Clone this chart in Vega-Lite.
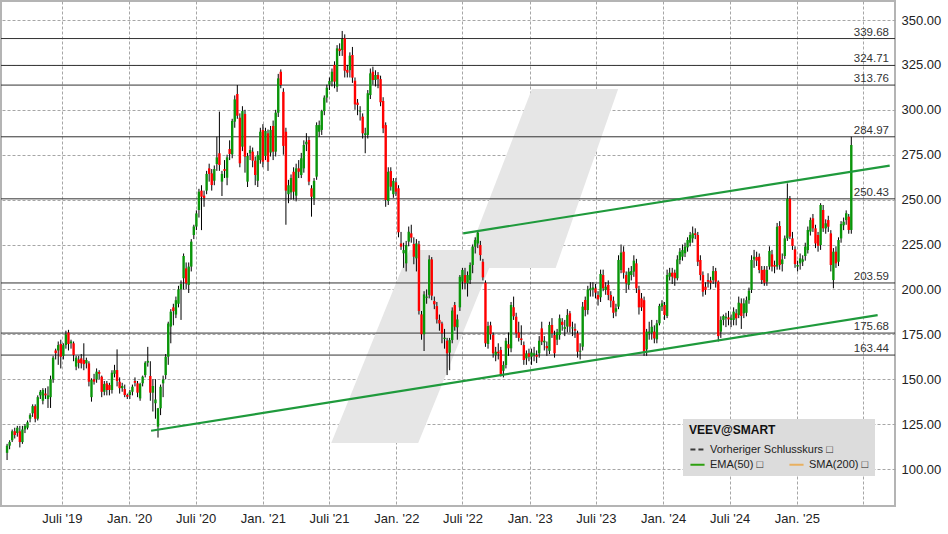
{
"$schema": "https://vega.github.io/schema/vega-lite/v6.json",
"width": 894, "height": 505,
"autosize": {"type": "none"},
"padding": {"left": 1, "top": 1, "right": 53, "bottom": 28},
"background": "white",
"config": {"view": {"stroke": "#b4b4b4", "strokeWidth": 2}, "font": "Liberation Sans",
"axis": {"ticks": false, "domain": false, "labelFontSize": 13, "labelColor": "#222", "labelFont": "Liberation Sans", "grid": true, "gridDash": [3,2], "gridColor": "#a6a6a6", "labelPadding": 6},
"legend": {"orient": "none", "symbolType": "stroke", "symbolSize": 200, "symbolStrokeWidth": 2, "labelFontSize": 11, "labelColor": "#222", "labelFont": "Liberation Sans", "titleFont": "Liberation Sans", "titleFontSize": 12, "titleColor": "#111", "titleFontWeight": "bold", "fillColor": "#dcdcdc", "padding": 6, "labelOffset": 4, "titlePadding": 2}},
"resolve": {"scale": {"color": "independent"}, "legend": {"color": "independent"}},
"datasets": {
"candles": [
{"d":"2019-02-01","o":109,"h":114,"l":105,"c":113},{"d":"2019-02-08","o":113,"h":116,"l":111,"c":115},{"d":"2019-02-15","o":116,"h":122,"l":115,"c":121},{"d":"2019-02-22","o":121,"h":123,"l":117,"c":119},{"d":"2019-03-01","o":120,"h":124,"l":118,"c":123},{"d":"2019-03-08","o":121,"h":124,"l":112,"c":115},{"d":"2019-03-15","o":115,"h":124,"l":114,"c":122},{"d":"2019-03-22","o":122,"h":125,"l":120,"c":124},{"d":"2019-03-29","o":123,"h":127,"l":122,"c":126},{"d":"2019-04-05","o":128,"h":131,"l":126,"c":130},{"d":"2019-04-12","o":131,"h":136,"l":129,"c":135},{"d":"2019-04-19","o":135,"h":136,"l":126,"c":128},{"d":"2019-04-26","o":128,"h":141,"l":127,"c":140},{"d":"2019-05-03","o":141,"h":144,"l":139,"c":143},{"d":"2019-05-10","o":138,"h":145,"l":136,"c":144},{"d":"2019-05-17","o":142,"h":145,"l":139,"c":141},{"d":"2019-05-24","o":139,"h":146,"l":134,"c":141},{"d":"2019-05-31","o":140,"h":152,"l":134,"c":150},{"d":"2019-06-07","o":150,"h":163,"l":148,"c":162},{"d":"2019-06-14","o":166,"h":167,"l":161,"c":164.5},{"d":"2019-06-21","o":166,"h":171,"l":158,"c":169},{"d":"2019-06-28","o":169.6,"h":172,"l":156,"c":162.5},{"d":"2019-07-05","o":163,"h":170,"l":161,"c":169},{"d":"2019-07-12","o":169,"h":177,"l":167,"c":175},{"d":"2019-07-19","o":176,"h":177.5,"l":166,"c":169.6},{"d":"2019-07-26","o":170,"h":172,"l":167,"c":171},{"d":"2019-08-02","o":170,"h":171,"l":160,"c":163.5},{"d":"2019-08-09","o":157,"h":163,"l":155,"c":162},{"d":"2019-08-16","o":161,"h":163,"l":156,"c":159},{"d":"2019-08-23","o":161.6,"h":164,"l":156,"c":158.8},{"d":"2019-08-30","o":160.7,"h":170,"l":155,"c":158.4},{"d":"2019-09-06","o":158.8,"h":162,"l":156,"c":160.7},{"d":"2019-09-13","o":158.8,"h":160,"l":146,"c":148.6},{"d":"2019-09-20","o":140,"h":150.5,"l":137.5,"c":149.6},{"d":"2019-09-27","o":150,"h":153,"l":147,"c":148.6},{"d":"2019-10-04","o":149.9,"h":156,"l":148,"c":154.2},{"d":"2019-10-11","o":154,"h":155,"l":150,"c":153},{"d":"2019-10-18","o":151.4,"h":152,"l":140,"c":143},{"d":"2019-10-25","o":143,"h":149,"l":141,"c":147.3},{"d":"2019-11-01","o":147.7,"h":149,"l":141,"c":144},{"d":"2019-11-08","o":146.8,"h":148,"l":141,"c":144},{"d":"2019-11-15","o":144,"h":155,"l":142,"c":153.6},{"d":"2019-11-22","o":153,"h":158,"l":151,"c":155},{"d":"2019-11-29","o":155.1,"h":166.6,"l":146,"c":149},{"d":"2019-12-06","o":148.6,"h":151,"l":142,"c":145},{"d":"2019-12-13","o":145,"h":148,"l":143,"c":146.2},{"d":"2019-12-20","o":144.5,"h":147,"l":140,"c":141.2},{"d":"2019-12-27","o":141.2,"h":142,"l":139,"c":140.2},
{"d":"2020-01-03","o":141.2,"h":144,"l":139,"c":143},{"d":"2020-01-10","o":143,"h":147,"l":141,"c":145.8},{"d":"2020-01-17","o":149,"h":151,"l":146,"c":148},{"d":"2020-01-24","o":147.7,"h":149,"l":140,"c":142.5},{"d":"2020-01-31","o":139.3,"h":148,"l":138,"c":147.3},{"d":"2020-02-07","o":147.7,"h":152,"l":146,"c":151.4},{"d":"2020-02-14","o":152.3,"h":160,"l":151,"c":159.2},{"d":"2020-02-21","o":159.2,"h":168,"l":157,"c":160.2},{"d":"2020-02-28","o":151.8,"h":160,"l":138,"c":142.5},{"d":"2020-03-06","o":142.5,"h":150,"l":132,"c":146.2},{"d":"2020-03-13","o":136.6,"h":150,"l":128,"c":138.7},{"d":"2020-03-20","o":123.6,"h":134,"l":117.5,"c":133.8},{"d":"2020-03-27","o":133.8,"h":147,"l":130,"c":145.8},{"d":"2020-04-03","o":147.7,"h":152,"l":140,"c":149.9},{"d":"2020-04-10","o":152.3,"h":164,"l":150,"c":162.5},{"d":"2020-04-17","o":162.5,"h":182,"l":158,"c":181},{"d":"2020-04-24","o":179.3,"h":189,"l":170,"c":187.6},{"d":"2020-05-01","o":190,"h":192,"l":180,"c":188},{"d":"2020-05-08","o":186,"h":196,"l":184,"c":194},{"d":"2020-05-15","o":192,"h":202,"l":190,"c":200},{"d":"2020-05-22","o":200,"h":205,"l":183,"c":203},{"d":"2020-05-29","o":206.2,"h":220,"l":200,"c":218.6},{"d":"2020-06-05","o":211.7,"h":215,"l":200,"c":203.4},{"d":"2020-06-12","o":202.5,"h":215,"l":198,"c":212.7},{"d":"2020-06-19","o":212.7,"h":228,"l":210,"c":226.6},{"d":"2020-06-26","o":230.3,"h":236,"l":228,"c":235},{"d":"2020-07-03","o":235,"h":244,"l":233,"c":242.3},{"d":"2020-07-10","o":244.2,"h":256,"l":240,"c":254.4},{"d":"2020-07-17","o":255,"h":258,"l":233,"c":251.6},{"d":"2020-07-24","o":252.2,"h":255,"l":246,"c":250.9},{"d":"2020-07-31","o":255,"h":266,"l":253,"c":264.3},{"d":"2020-08-07","o":267.4,"h":270,"l":260,"c":264.3},{"d":"2020-08-14","o":264.6,"h":267,"l":255,"c":258.1},{"d":"2020-08-21","o":260.5,"h":269,"l":258,"c":267},{"d":"2020-08-28","o":269.8,"h":285,"l":266,"c":273.5},{"d":"2020-09-04","o":275.8,"h":299,"l":266,"c":269.3},{"d":"2020-09-11","o":260,"h":266,"l":252,"c":264.3},{"d":"2020-09-18","o":267,"h":272,"l":262,"c":266},{"d":"2020-09-25","o":262.2,"h":275,"l":258,"c":273.5},{"d":"2020-10-02","o":278.2,"h":283,"l":272,"c":275.4},{"d":"2020-10-09","o":275.2,"h":295,"l":273,"c":293.8},{"d":"2020-10-16","o":293.4,"h":308,"l":290,"c":305.8},{"d":"2020-10-23","o":308.8,"h":313.8,"l":295,"c":296.7},{"d":"2020-10-30","o":295.6,"h":298,"l":268,"c":270.2},{"d":"2020-11-06","o":279.5,"h":302,"l":277,"c":299.3},{"d":"2020-11-13","o":297.7,"h":300,"l":265,"c":273.9},{"d":"2020-11-20","o":260,"h":276,"l":257,"c":274.3},{"d":"2020-11-27","o":275.8,"h":280,"l":272,"c":277.6},{"d":"2020-12-04","o":276.7,"h":279,"l":268,"c":271.7},{"d":"2020-12-11","o":271.7,"h":274,"l":258,"c":263.7},{"d":"2020-12-18","o":260.5,"h":277,"l":257,"c":274.8},{"d":"2020-12-25","o":272,"h":290,"l":270,"c":287.8},
{"d":"2021-01-01","o":288.8,"h":292,"l":268,"c":271.1},{"d":"2021-01-08","o":274.3,"h":290,"l":272,"c":288.2},{"d":"2021-01-15","o":286.9,"h":289,"l":266,"c":271},{"d":"2021-01-22","o":276.2,"h":291,"l":274,"c":288.8},{"d":"2021-01-29","o":291,"h":294,"l":272,"c":276.7},{"d":"2021-02-05","o":276.7,"h":300,"l":274,"c":298.4},{"d":"2021-02-12","o":298.4,"h":320,"l":296,"c":317.5},{"d":"2021-02-19","o":321.2,"h":322.5,"l":312,"c":313.8},{"d":"2021-02-26","o":310,"h":312,"l":275,"c":279.9},{"d":"2021-03-05","o":287.8,"h":290,"l":236,"c":255},{"d":"2021-03-12","o":253,"h":261,"l":248,"c":258},{"d":"2021-03-19","o":254,"h":264,"l":250,"c":262},{"d":"2021-03-26","o":265.5,"h":268,"l":250,"c":254.4},{"d":"2021-04-02","o":252.2,"h":270,"l":249,"c":267.4},{"d":"2021-04-09","o":267.4,"h":272,"l":262,"c":265.5},{"d":"2021-04-16","o":263.7,"h":276,"l":262,"c":273},{"d":"2021-04-23","o":267.4,"h":283,"l":265,"c":280.4},{"d":"2021-04-30","o":280.8,"h":287,"l":277,"c":282.2},{"d":"2021-05-07","o":283.2,"h":285,"l":258,"c":260},{"d":"2021-05-14","o":256.3,"h":258,"l":240.5,"c":251.6},{"d":"2021-05-21","o":250.7,"h":262,"l":247,"c":260.4},{"d":"2021-05-28","o":262.8,"h":293,"l":261,"c":291.5},{"d":"2021-06-04","o":287.8,"h":294,"l":285,"c":291.5},{"d":"2021-06-11","o":288.8,"h":300,"l":286,"c":299.3},{"d":"2021-06-18","o":299.3,"h":308,"l":297,"c":306.8},{"d":"2021-06-25","o":306.8,"h":314,"l":304,"c":312.3},{"d":"2021-07-02","o":314,"h":318,"l":311,"c":316},{"d":"2021-07-09","o":315.7,"h":323,"l":313,"c":321.2},{"d":"2021-07-16","o":325,"h":327,"l":312,"c":315.7},{"d":"2021-07-23","o":312.9,"h":336,"l":310,"c":334.2},{"d":"2021-07-30","o":334,"h":337,"l":330,"c":332.7},{"d":"2021-08-06","o":333.3,"h":343.9,"l":330,"c":339.4},{"d":"2021-08-13","o":339.8,"h":342,"l":318,"c":321.8},{"d":"2021-08-20","o":322.2,"h":325,"l":318,"c":320.7},{"d":"2021-08-27","o":322.1,"h":332,"l":318,"c":330.1},{"d":"2021-09-03","o":330.5,"h":335,"l":315,"c":317.9},{"d":"2021-09-10","o":316.2,"h":318,"l":300,"c":303},{"d":"2021-09-17","o":304,"h":306,"l":297,"c":302.7},{"d":"2021-09-24","o":299,"h":302,"l":294,"c":299.5},{"d":"2021-10-01","o":296.2,"h":298,"l":284,"c":286.9},{"d":"2021-10-08","o":286,"h":290,"l":275.8,"c":286.9},{"d":"2021-10-15","o":286,"h":311,"l":284,"c":309.2},{"d":"2021-10-22","o":308.2,"h":323,"l":306,"c":320.3},{"d":"2021-10-29","o":321.2,"h":324,"l":314,"c":316.6},{"d":"2021-11-05","o":316.6,"h":322,"l":313,"c":319.4},{"d":"2021-11-12","o":319.4,"h":321,"l":312,"c":317.1},{"d":"2021-11-19","o":317.1,"h":319,"l":302,"c":304.2},{"d":"2021-11-26","o":304.9,"h":307,"l":287,"c":289.7},{"d":"2021-12-03","o":291.5,"h":293,"l":246,"c":249.8},{"d":"2021-12-10","o":249.2,"h":268,"l":247,"c":265.5},{"d":"2021-12-17","o":265.9,"h":268,"l":255,"c":257.2},{"d":"2021-12-24","o":253,"h":262,"l":251,"c":260.4},{"d":"2021-12-31","o":259.6,"h":262,"l":252,"c":254.4},
{"d":"2022-01-07","o":256.3,"h":258,"l":229,"c":231.8},{"d":"2022-01-14","o":225.6,"h":232,"l":222,"c":223.8},{"d":"2022-01-21","o":220.1,"h":226,"l":212,"c":221.9},{"d":"2022-01-28","o":214.5,"h":227,"l":210,"c":224.7},{"d":"2022-02-04","o":226.6,"h":235,"l":224,"c":232.1},{"d":"2022-02-11","o":231.2,"h":236,"l":226,"c":228.8},{"d":"2022-02-18","o":225.3,"h":229,"l":214,"c":218.2},{"d":"2022-02-25","o":217.3,"h":228,"l":210,"c":225.6},{"d":"2022-03-04","o":225.1,"h":227,"l":186,"c":188},{"d":"2022-03-11","o":186.1,"h":188,"l":172,"c":175},{"d":"2022-03-18","o":175,"h":199,"l":165.7,"c":197.2},{"d":"2022-03-25","o":195.3,"h":200,"l":192,"c":196},{"d":"2022-04-01","o":197,"h":219,"l":195,"c":216.7},{"d":"2022-04-08","o":216.7,"h":218,"l":194,"c":196.5},{"d":"2022-04-15","o":193.5,"h":196,"l":189,"c":191.7},{"d":"2022-04-22","o":190.7,"h":193,"l":181,"c":183.3},{"d":"2022-04-29","o":183,"h":186,"l":177,"c":181},{"d":"2022-05-06","o":181,"h":182,"l":170,"c":175.5},{"d":"2022-05-13","o":172.4,"h":178,"l":167,"c":173.1},{"d":"2022-05-20","o":171.4,"h":173,"l":152.3,"c":164.4},{"d":"2022-05-27","o":164.8,"h":173,"l":155,"c":171.8},{"d":"2022-06-03","o":171.8,"h":190,"l":170,"c":188.2},{"d":"2022-06-10","o":191.3,"h":193,"l":177,"c":179.2},{"d":"2022-06-17","o":178.9,"h":186,"l":172,"c":183.3},{"d":"2022-06-24","o":190,"h":208,"l":188,"c":207},{"d":"2022-07-01","o":204.3,"h":212,"l":200,"c":210.8},{"d":"2022-07-08","o":208,"h":212,"l":200,"c":203.7},{"d":"2022-07-15","o":203.4,"h":210,"l":196,"c":208},{"d":"2022-07-22","o":205.2,"h":215,"l":203,"c":213.6},{"d":"2022-07-29","o":213.6,"h":225,"l":209,"c":223.8},{"d":"2022-08-05","o":223.8,"h":229,"l":220,"c":227.5},{"d":"2022-08-12","o":225.6,"h":232.7,"l":223,"c":231.6},{"d":"2022-08-19","o":224.7,"h":227,"l":216,"c":219.1},{"d":"2022-08-26","o":215.4,"h":217,"l":205,"c":206.7},{"d":"2022-09-02","o":203.7,"h":205,"l":168,"c":170},{"d":"2022-09-09","o":169.6,"h":182,"l":167,"c":179.6},{"d":"2022-09-16","o":180,"h":182,"l":172,"c":175},{"d":"2022-09-23","o":174.6,"h":176,"l":162,"c":164.4},{"d":"2022-09-30","o":163.5,"h":168,"l":160,"c":165.3},{"d":"2022-10-07","o":165.3,"h":170,"l":161,"c":164.4},{"d":"2022-10-14","o":166.3,"h":168,"l":151.5,"c":152.3},{"d":"2022-10-21","o":154.7,"h":160,"l":151,"c":157.9},{"d":"2022-10-28","o":157.9,"h":173,"l":156,"c":171.4},{"d":"2022-11-04","o":169.5,"h":176,"l":163,"c":167.2},{"d":"2022-11-11","o":167.2,"h":193,"l":165,"c":191.3},{"d":"2022-11-18","o":190,"h":196,"l":183,"c":185},{"d":"2022-11-25","o":184.8,"h":187,"l":173,"c":175.5},{"d":"2022-12-02","o":176,"h":182,"l":171,"c":173},{"d":"2022-12-09","o":172.7,"h":180,"l":169,"c":171.8},{"d":"2022-12-16","o":169,"h":171,"l":158,"c":160.7},{"d":"2022-12-23","o":161.6,"h":166,"l":158,"c":164.4},{"d":"2022-12-30","o":164.4,"h":167,"l":160,"c":162.5},
{"d":"2023-01-06","o":162.5,"h":167,"l":158,"c":164.8},{"d":"2023-01-13","o":163.5,"h":168,"l":160,"c":164.4},{"d":"2023-01-20","o":163.5,"h":166,"l":159,"c":162.5},{"d":"2023-01-27","o":164.4,"h":174,"l":162,"c":171.4},{"d":"2023-02-03","o":178.3,"h":182,"l":169,"c":170.9},{"d":"2023-02-10","o":170.5,"h":174,"l":166,"c":171.4},{"d":"2023-02-17","o":168.5,"h":171,"l":163,"c":167.2},{"d":"2023-02-24","o":165.8,"h":182,"l":164,"c":180.2},{"d":"2023-03-03","o":180.2,"h":184,"l":173,"c":175.5},{"d":"2023-03-10","o":174.6,"h":177,"l":162,"c":164.4},{"d":"2023-03-17","o":172,"h":178,"l":169,"c":176.2},{"d":"2023-03-24","o":174.6,"h":186,"l":172,"c":183.9},{"d":"2023-03-31","o":182,"h":184,"l":177,"c":180.2},{"d":"2023-04-07","o":178,"h":183,"l":174,"c":179},{"d":"2023-04-14","o":179.3,"h":189,"l":176,"c":185.7},{"d":"2023-04-21","o":186.7,"h":188,"l":176,"c":179.3},{"d":"2023-04-28","o":178.3,"h":182,"l":174,"c":178.8},{"d":"2023-05-05","o":178,"h":181,"l":173,"c":177},{"d":"2023-05-12","o":175.5,"h":177,"l":162,"c":165.3},{"d":"2023-05-19","o":165.3,"h":170,"l":161,"c":165.8},{"d":"2023-05-26","o":168.1,"h":193,"l":166,"c":190.4},{"d":"2023-06-02","o":194.1,"h":196,"l":185,"c":188.5},{"d":"2023-06-09","o":188.5,"h":202,"l":186,"c":200},{"d":"2023-06-16","o":199.5,"h":204,"l":196,"c":200.6},{"d":"2023-06-23","o":200,"h":204,"l":196,"c":201.1},{"d":"2023-06-30","o":200.6,"h":203,"l":195,"c":198.2},{"d":"2023-07-07","o":196.9,"h":199,"l":191,"c":194.5},{"d":"2023-07-14","o":195.6,"h":211,"l":193,"c":208.6},{"d":"2023-07-21","o":208,"h":211,"l":199,"c":200.6},{"d":"2023-07-28","o":199.7,"h":204,"l":197,"c":201.5},{"d":"2023-08-04","o":202.5,"h":205,"l":194,"c":196.9},{"d":"2023-08-11","o":196.9,"h":199,"l":190,"c":193.7},{"d":"2023-08-18","o":193.7,"h":196,"l":184,"c":187},{"d":"2023-08-25","o":187.6,"h":192,"l":185,"c":189.5},{"d":"2023-09-01","o":190.4,"h":219,"l":189,"c":216.4},{"d":"2023-09-08","o":210.8,"h":225,"l":209,"c":220.5},{"d":"2023-09-15","o":221,"h":224,"l":206,"c":209.3},{"d":"2023-09-22","o":208,"h":210,"l":198,"c":203.4},{"d":"2023-09-29","o":202.5,"h":212,"l":200,"c":209.9},{"d":"2023-10-06","o":208,"h":213,"l":205,"c":210.2},{"d":"2023-10-13","o":209.9,"h":219,"l":207,"c":216},{"d":"2023-10-20","o":214.5,"h":217,"l":198,"c":200.6},{"d":"2023-10-27","o":199.7,"h":202,"l":186,"c":190},{"d":"2023-11-03","o":195,"h":198,"l":188,"c":190},{"d":"2023-11-10","o":194,"h":196,"l":163,"c":165.3},{"d":"2023-11-17","o":166.6,"h":178,"l":163,"c":176.5},{"d":"2023-11-24","o":175.5,"h":182,"l":172,"c":176.5},{"d":"2023-12-01","o":175.9,"h":183,"l":172,"c":179.2},{"d":"2023-12-08","o":176.5,"h":180,"l":170,"c":172.7},{"d":"2023-12-15","o":172.2,"h":183,"l":170,"c":181.1},{"d":"2023-12-22","o":181.1,"h":192,"l":180,"c":190.8},{"d":"2023-12-29","o":190.4,"h":194,"l":188,"c":192.2},
{"d":"2024-01-05","o":191.3,"h":193,"l":183,"c":185.7},{"d":"2024-01-12","o":185.2,"h":211,"l":184,"c":208},{"d":"2024-01-19","o":207.1,"h":212,"l":205,"c":209.3},{"d":"2024-01-26","o":209.3,"h":212,"l":203,"c":207.1},{"d":"2024-02-02","o":209.3,"h":211,"l":202,"c":206.2},{"d":"2024-02-09","o":206.2,"h":219,"l":205,"c":216.7},{"d":"2024-02-16","o":216.4,"h":223,"l":214,"c":221},{"d":"2024-02-23","o":218.2,"h":225,"l":216,"c":221.9},{"d":"2024-03-01","o":220.1,"h":226,"l":218,"c":223.8},{"d":"2024-03-08","o":223.4,"h":229,"l":221,"c":227.5},{"d":"2024-03-15","o":226,"h":232,"l":224,"c":230.3},{"d":"2024-03-22","o":228.4,"h":235,"l":226,"c":231.2},{"d":"2024-03-29","o":231.2,"h":234,"l":228,"c":230.3},{"d":"2024-04-05","o":230.3,"h":232,"l":213,"c":215.4},{"d":"2024-04-12","o":216.4,"h":219,"l":205,"c":208},{"d":"2024-04-19","o":208,"h":210,"l":196,"c":198.7},{"d":"2024-04-26","o":201.5,"h":204,"l":197,"c":199.7},{"d":"2024-05-03","o":205.2,"h":209,"l":201,"c":204.3},{"d":"2024-05-10","o":204.9,"h":207,"l":200,"c":203.7},{"d":"2024-05-17","o":205.2,"h":213,"l":203,"c":210.2},{"d":"2024-05-24","o":210.2,"h":212,"l":201,"c":204.3},{"d":"2024-05-31","o":204.3,"h":205,"l":171,"c":174},{"d":"2024-06-07","o":176.5,"h":185,"l":173,"c":183},{"d":"2024-06-14","o":183,"h":186,"l":180,"c":185.2},{"d":"2024-06-21","o":183.9,"h":187,"l":179,"c":184.8},{"d":"2024-06-28","o":184.4,"h":188,"l":180,"c":183.3},{"d":"2024-07-05","o":183,"h":186,"l":179,"c":183.9},{"d":"2024-07-12","o":183,"h":190,"l":180,"c":187.6},{"d":"2024-07-19","o":186.7,"h":189,"l":180,"c":183.9},{"d":"2024-07-26","o":185.7,"h":196,"l":184,"c":192.6},{"d":"2024-08-02","o":192.2,"h":195,"l":178,"c":185.2},{"d":"2024-08-09","o":186.7,"h":195,"l":184,"c":192.2},{"d":"2024-08-16","o":187,"h":196,"l":185,"c":194},{"d":"2024-08-23","o":194,"h":201,"l":192,"c":199.3},{"d":"2024-08-30","o":199.7,"h":219,"l":198,"c":216.4},{"d":"2024-09-06","o":216.7,"h":222,"l":212,"c":218.2},{"d":"2024-09-13","o":218,"h":221,"l":213,"c":216},{"d":"2024-09-20","o":218.2,"h":220,"l":209,"c":210.8},{"d":"2024-09-27","o":210.8,"h":213,"l":203,"c":205.2},{"d":"2024-10-04","o":211,"h":213,"l":202,"c":203.7},{"d":"2024-10-11","o":204.3,"h":213,"l":202,"c":210.8},{"d":"2024-10-18","o":212.7,"h":224,"l":211,"c":221.4},{"d":"2024-10-25","o":219.5,"h":222,"l":210,"c":212.7},{"d":"2024-11-01","o":213.6,"h":216,"l":209,"c":212.7},{"d":"2024-11-08","o":212.7,"h":237,"l":211,"c":234.9},{"d":"2024-11-15","o":235.3,"h":238,"l":211,"c":213.6},{"d":"2024-11-22","o":214.1,"h":220,"l":210,"c":216.7},{"d":"2024-11-29","o":218.6,"h":230,"l":217,"c":228.4},{"d":"2024-12-06","o":228.4,"h":259,"l":227,"c":250.5},{"d":"2024-12-13","o":250.5,"h":252,"l":228,"c":229.4},{"d":"2024-12-20","o":228.4,"h":232,"l":222,"c":224.2},{"d":"2024-12-27","o":222.3,"h":224,"l":212,"c":214.1},
{"d":"2025-01-03","o":212.7,"h":216,"l":210,"c":213.6},{"d":"2025-01-10","o":214.5,"h":220,"l":211,"c":217.3},{"d":"2025-01-17","o":215.4,"h":219,"l":213,"c":216.7},{"d":"2025-01-24","o":218.6,"h":226,"l":216,"c":223.8},{"d":"2025-01-31","o":221.9,"h":235,"l":220,"c":233.1},{"d":"2025-02-07","o":232.2,"h":240,"l":230,"c":238.6},{"d":"2025-02-14","o":239.6,"h":242,"l":232,"c":234},{"d":"2025-02-21","o":234,"h":236,"l":223,"c":225.6},{"d":"2025-02-28","o":230.3,"h":232,"l":221,"c":224.2},{"d":"2025-03-07","o":224.7,"h":248,"l":222,"c":247},{"d":"2025-03-14","o":244.2,"h":247,"l":232,"c":234},{"d":"2025-03-21","o":234,"h":239,"l":231,"c":236.8},{"d":"2025-03-28","o":238.6,"h":241,"l":232,"c":234.9},{"d":"2025-04-04","o":231.2,"h":233,"l":210,"c":213.6},{"d":"2025-04-11","o":205.2,"h":223,"l":200.6,"c":221},{"d":"2025-04-18","o":221,"h":224,"l":212,"c":214.5},{"d":"2025-04-25","o":215.4,"h":229,"l":213,"c":227.5},{"d":"2025-05-02","o":228.4,"h":238,"l":226,"c":236.4},{"d":"2025-05-09","o":235.7,"h":240,"l":233,"c":237.7},{"d":"2025-05-16","o":238.6,"h":244,"l":236,"c":242.4},{"d":"2025-05-23","o":240.5,"h":242,"l":231,"c":233.1},{"d":"2025-05-30","o":233.1,"h":285,"l":231,"c":280.4}
],
"levels": [{"v":339.68},{"v":324.71},{"v":313.76},{"v":284.97},{"v":250.43},{"v":203.59},{"v":175.68},{"v":163.44}],
"trends": [{"t":"up","d":"2022-07-03","v":231.2},{"t":"up","d":"2025-09-12","v":268.9},{"t":"lo","d":"2020-03-01","v":121.3},{"t":"lo","d":"2025-08-10","v":185.7}],
"wmUpper": [{"v":311.6,"d":"2023-01-07","d2":"2023-08-31"},{"v":211.9,"d":"2022-07-02","d2":"2023-03-13"}],
"wmLower": [{"v":221.9,"d":"2022-02-06","d2":"2022-10-02"},{"v":114.5,"d":"2021-07-07","d2":"2022-03-02"}]
},
"layer": [
{
"data": {"name": "wmUpper"},
"mark": {"type": "area", "orient": "horizontal", "color": "#e6e6e6"},
"encoding": {
"y": {"field": "v", "type": "quantitative", "scale": {"domain": [79.4, 360.58], "nice": false, "zero": false},
"axis": {"orient": "right", "values": [100,125,150,175,200,225,250,275,300,325,350], "format": ".2f", "title": null}},
"x": {"field": "d", "type": "temporal", "scale": {"type": "utc", "nice": false, "domain": [{"year":2019,"month":1,"date":29,"hours":2,"utc":true},{"year":2025,"month":9,"date":12,"hours":21,"utc":true}]},
"axis": {"orient": "bottom", "values": [{"year":2019,"month":7,"date":1,"utc":true},{"year":2020,"month":1,"date":1,"utc":true},{"year":2020,"month":7,"date":1,"utc":true},{"year":2021,"month":1,"date":1,"utc":true},{"year":2021,"month":7,"date":1,"utc":true},{"year":2022,"month":1,"date":1,"utc":true},{"year":2022,"month":7,"date":1,"utc":true},{"year":2023,"month":1,"date":1,"utc":true},{"year":2023,"month":7,"date":1,"utc":true},{"year":2024,"month":1,"date":1,"utc":true},{"year":2024,"month":7,"date":1,"utc":true},{"year":2025,"month":1,"date":1,"utc":true},{"year":2025,"month":7,"date":1,"utc":true}],
"labelExpr": "utcFormat(datum.value, '%Y%m') == '202507' ? '' : (utcFormat(datum.value, '%m') == '01' ? 'Jan. ' : 'Juli ') + \"'\" + utcFormat(datum.value, '%y')", "labelOverlap": false, "labelFlush": false, "title": null}},
"x2": {"field": "d2"}
}
},
{
"data": {"name": "wmLower"},
"mark": {"type": "area", "orient": "horizontal", "color": "#e6e6e6"},
"encoding": {
"y": {"field": "v", "type": "quantitative", "axis": {"orient": "right", "values": [100,125,150,175,200,225,250,275,300,325,350], "format": ".2f", "title": null}},
"x": {"field": "d", "type": "temporal", "axis": {"orient": "bottom", "values": [{"year":2019,"month":7,"date":1,"utc":true},{"year":2020,"month":1,"date":1,"utc":true},{"year":2020,"month":7,"date":1,"utc":true},{"year":2021,"month":1,"date":1,"utc":true},{"year":2021,"month":7,"date":1,"utc":true},{"year":2022,"month":1,"date":1,"utc":true},{"year":2022,"month":7,"date":1,"utc":true},{"year":2023,"month":1,"date":1,"utc":true},{"year":2023,"month":7,"date":1,"utc":true},{"year":2024,"month":1,"date":1,"utc":true},{"year":2024,"month":7,"date":1,"utc":true},{"year":2025,"month":1,"date":1,"utc":true},{"year":2025,"month":7,"date":1,"utc":true}],
"labelExpr": "utcFormat(datum.value, '%Y%m') == '202507' ? '' : (utcFormat(datum.value, '%m') == '01' ? 'Jan. ' : 'Juli ') + \"'\" + utcFormat(datum.value, '%y')", "labelOverlap": false, "labelFlush": false, "title": null}},
"x2": {"field": "d2"}
}
},
{
"data": {"name": "levels"},
"mark": {"type": "rule", "color": "#333333", "strokeWidth": 1},
"encoding": {"y": {"field": "v", "type": "quantitative", "axis": {"orient": "right", "values": [100,125,150,175,200,225,250,275,300,325,350], "format": ".2f", "title": null}}}
},
{
"data": {"name": "candles"},
"mark": {"type": "rule", "color": "#000000", "strokeWidth": 1},
"encoding": {
"x": {"field": "d", "type": "temporal", "axis": {"orient": "bottom", "values": [{"year":2019,"month":7,"date":1,"utc":true},{"year":2020,"month":1,"date":1,"utc":true},{"year":2020,"month":7,"date":1,"utc":true},{"year":2021,"month":1,"date":1,"utc":true},{"year":2021,"month":7,"date":1,"utc":true},{"year":2022,"month":1,"date":1,"utc":true},{"year":2022,"month":7,"date":1,"utc":true},{"year":2023,"month":1,"date":1,"utc":true},{"year":2023,"month":7,"date":1,"utc":true},{"year":2024,"month":1,"date":1,"utc":true},{"year":2024,"month":7,"date":1,"utc":true},{"year":2025,"month":1,"date":1,"utc":true},{"year":2025,"month":7,"date":1,"utc":true}],
"labelExpr": "utcFormat(datum.value, '%Y%m') == '202507' ? '' : (utcFormat(datum.value, '%m') == '01' ? 'Jan. ' : 'Juli ') + \"'\" + utcFormat(datum.value, '%y')", "labelOverlap": false, "labelFlush": false, "title": null}},
"y": {"field": "l", "type": "quantitative", "axis": {"orient": "right", "values": [100,125,150,175,200,225,250,275,300,325,350], "format": ".2f", "title": null}},
"y2": {"field": "h"}
}
},
{
"data": {"name": "candles"},
"mark": {"type": "bar", "width": 2.4},
"encoding": {
"x": {"field": "d", "type": "temporal", "axis": {"orient": "bottom", "values": [{"year":2019,"month":7,"date":1,"utc":true},{"year":2020,"month":1,"date":1,"utc":true},{"year":2020,"month":7,"date":1,"utc":true},{"year":2021,"month":1,"date":1,"utc":true},{"year":2021,"month":7,"date":1,"utc":true},{"year":2022,"month":1,"date":1,"utc":true},{"year":2022,"month":7,"date":1,"utc":true},{"year":2023,"month":1,"date":1,"utc":true},{"year":2023,"month":7,"date":1,"utc":true},{"year":2024,"month":1,"date":1,"utc":true},{"year":2024,"month":7,"date":1,"utc":true},{"year":2025,"month":1,"date":1,"utc":true},{"year":2025,"month":7,"date":1,"utc":true}],
"labelExpr": "utcFormat(datum.value, '%Y%m') == '202507' ? '' : (utcFormat(datum.value, '%m') == '01' ? 'Jan. ' : 'Juli ') + \"'\" + utcFormat(datum.value, '%y')", "labelOverlap": false, "labelFlush": false, "title": null}},
"y": {"field": "o", "type": "quantitative", "axis": {"orient": "right", "values": [100,125,150,175,200,225,250,275,300,325,350], "format": ".2f", "title": null}},
"y2": {"field": "c"},
"color": {"condition": {"test": "datum.c >= datum.o", "value": "#0a960a"}, "value": "#ff0000"}
}
},
{
"data": {"name": "trends"},
"mark": {"type": "line", "color": "#1f9a3c", "strokeWidth": 2.2},
"encoding": {
"x": {"field": "d", "type": "temporal", "axis": {"orient": "bottom", "values": [{"year":2019,"month":7,"date":1,"utc":true},{"year":2020,"month":1,"date":1,"utc":true},{"year":2020,"month":7,"date":1,"utc":true},{"year":2021,"month":1,"date":1,"utc":true},{"year":2021,"month":7,"date":1,"utc":true},{"year":2022,"month":1,"date":1,"utc":true},{"year":2022,"month":7,"date":1,"utc":true},{"year":2023,"month":1,"date":1,"utc":true},{"year":2023,"month":7,"date":1,"utc":true},{"year":2024,"month":1,"date":1,"utc":true},{"year":2024,"month":7,"date":1,"utc":true},{"year":2025,"month":1,"date":1,"utc":true},{"year":2025,"month":7,"date":1,"utc":true}],
"labelExpr": "utcFormat(datum.value, '%Y%m') == '202507' ? '' : (utcFormat(datum.value, '%m') == '01' ? 'Jan. ' : 'Juli ') + \"'\" + utcFormat(datum.value, '%y')", "labelOverlap": false, "labelFlush": false, "title": null}},
"y": {"field": "v", "type": "quantitative", "axis": {"orient": "right", "values": [100,125,150,175,200,225,250,275,300,325,350], "format": ".2f", "title": null}},
"detail": {"field": "t"}
}
},
{
"data": {"name": "levels"},
"mark": {"type": "text", "align": "right", "baseline": "alphabetic", "dx": -1, "dy": -3, "fontSize": 11.5, "color": "#333333", "font": "Liberation Sans"},
"encoding": {
"x": {"datum": {"year":2025,"month":9,"date":12,"hours":21,"utc":true}, "type": "temporal", "axis": {"orient": "bottom", "values": [{"year":2019,"month":7,"date":1,"utc":true},{"year":2020,"month":1,"date":1,"utc":true},{"year":2020,"month":7,"date":1,"utc":true},{"year":2021,"month":1,"date":1,"utc":true},{"year":2021,"month":7,"date":1,"utc":true},{"year":2022,"month":1,"date":1,"utc":true},{"year":2022,"month":7,"date":1,"utc":true},{"year":2023,"month":1,"date":1,"utc":true},{"year":2023,"month":7,"date":1,"utc":true},{"year":2024,"month":1,"date":1,"utc":true},{"year":2024,"month":7,"date":1,"utc":true},{"year":2025,"month":1,"date":1,"utc":true},{"year":2025,"month":7,"date":1,"utc":true}],
"labelExpr": "utcFormat(datum.value, '%Y%m') == '202507' ? '' : (utcFormat(datum.value, '%m') == '01' ? 'Jan. ' : 'Juli ') + \"'\" + utcFormat(datum.value, '%y')", "labelOverlap": false, "labelFlush": false, "title": null}},
"y": {"field": "v", "type": "quantitative", "axis": {"orient": "right", "values": [100,125,150,175,200,225,250,275,300,325,350], "format": ".2f", "title": null}},
"text": {"field": "v", "type": "quantitative", "format": ".2f"}
}
},
{
"data": {"values": []},
"mark": {"type": "line"},
"encoding": {
"x": {"field": "d", "type": "temporal", "axis": {"orient": "bottom", "values": [{"year":2019,"month":7,"date":1,"utc":true},{"year":2020,"month":1,"date":1,"utc":true},{"year":2020,"month":7,"date":1,"utc":true},{"year":2021,"month":1,"date":1,"utc":true},{"year":2021,"month":7,"date":1,"utc":true},{"year":2022,"month":1,"date":1,"utc":true},{"year":2022,"month":7,"date":1,"utc":true},{"year":2023,"month":1,"date":1,"utc":true},{"year":2023,"month":7,"date":1,"utc":true},{"year":2024,"month":1,"date":1,"utc":true},{"year":2024,"month":7,"date":1,"utc":true},{"year":2025,"month":1,"date":1,"utc":true},{"year":2025,"month":7,"date":1,"utc":true}],
"labelExpr": "utcFormat(datum.value, '%Y%m') == '202507' ? '' : (utcFormat(datum.value, '%m') == '01' ? 'Jan. ' : 'Juli ') + \"'\" + utcFormat(datum.value, '%y')", "labelOverlap": false, "labelFlush": false, "title": null}},
"y": {"field": "v", "type": "quantitative", "axis": {"orient": "right", "values": [100,125,150,175,200,225,250,275,300,325,350], "format": ".2f", "title": null}},
"color": {"field": "s2", "type": "nominal",
"scale": {"domain": ["EMA(50) □", "SMA(200) □"], "range": ["#2ea010", "#e8b060"]},
"legend": {"title": ["VEEV@SMART", " "], "titleLineHeight": 17, "legendX": 682, "legendY": 418, "direction": "horizontal", "columns": 2, "columnPadding": 21}}
}
},
{
"data": {"values": []},
"mark": {"type": "line"},
"encoding": {
"x": {"field": "d", "type": "temporal", "axis": {"orient": "bottom", "values": [{"year":2019,"month":7,"date":1,"utc":true},{"year":2020,"month":1,"date":1,"utc":true},{"year":2020,"month":7,"date":1,"utc":true},{"year":2021,"month":1,"date":1,"utc":true},{"year":2021,"month":7,"date":1,"utc":true},{"year":2022,"month":1,"date":1,"utc":true},{"year":2022,"month":7,"date":1,"utc":true},{"year":2023,"month":1,"date":1,"utc":true},{"year":2023,"month":7,"date":1,"utc":true},{"year":2024,"month":1,"date":1,"utc":true},{"year":2024,"month":7,"date":1,"utc":true},{"year":2025,"month":1,"date":1,"utc":true},{"year":2025,"month":7,"date":1,"utc":true}],
"labelExpr": "utcFormat(datum.value, '%Y%m') == '202507' ? '' : (utcFormat(datum.value, '%m') == '01' ? 'Jan. ' : 'Juli ') + \"'\" + utcFormat(datum.value, '%y')", "labelOverlap": false, "labelFlush": false, "title": null}},
"y": {"field": "v", "type": "quantitative", "axis": {"orient": "right", "values": [100,125,150,175,200,225,250,275,300,325,350], "format": ".2f", "title": null}},
"color": {"field": "s1", "type": "nominal",
"scale": {"domain": ["Vorheriger Schlusskurs □"], "range": ["#3a3a3a"]},
"legend": {"title": null, "legendX": 682, "legendY": 434, "symbolDash": [5,3], "fillColor": "rgba(0,0,0,0)"}}
}
}
]
}
